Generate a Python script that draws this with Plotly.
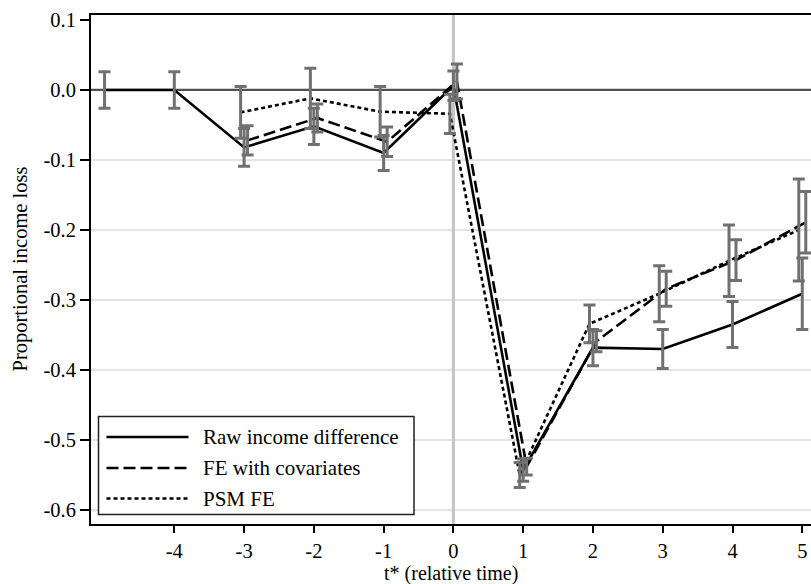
import plotly.graph_objects as go

# ---------------- data ----------------
times_raw = [-5, -4, -3, -2, -1, 0, 1, 2, 3, 4, 5]
raw_vals = [0.000, 0.000, -0.082, -0.052, -0.090, 0.006, -0.543, -0.368, -0.370, -0.335, -0.291]
raw_err = [0.026, 0.026, 0.027, 0.026, 0.025, 0.021, 0.016, 0.026, 0.028, 0.033, 0.051]

times_fe = [-3, -2, -1, 0, 1, 2, 3, 4, 5]
fe_vals = [-0.072, -0.040, -0.074, 0.012, -0.538, -0.359, -0.284, -0.243, -0.189]
fe_err = [0.021, 0.020, 0.021, 0.025, 0.012, 0.015, 0.025, 0.029, 0.044]

times_psm = [-3, -2, -1, 0, 1, 2, 3, 4, 5]
psm_vals = [-0.032, -0.012, -0.031, -0.034, -0.550, -0.334, -0.291, -0.244, -0.200]
psm_err = [0.037, 0.043, 0.036, 0.028, 0.018, 0.027, 0.040, 0.051, 0.073]

series_names = ["Raw income difference", "FE with covariates", "PSM FE"]

x_tickvals = [-4, -3, -2, -1, 0, 1, 2, 3, 4, 5]
x_ticktext = ["-4", "-3", "-2", "-1", "0", "1", "2", "3", "4", "5"]
y_tickvals = [0.1, 0.0, -0.1, -0.2, -0.3, -0.4, -0.5, -0.6]
y_ticktext = ["0.1", "0.0", "-0.1", "-0.2", "-0.3", "-0.4", "-0.5", "-0.6"]
grid_vals = [-0.1, -0.2, -0.3, -0.4, -0.5, -0.6]

# ---------------- styling ----------------
FONT = "Liberation Serif, Times New Roman, serif"
FS = 20.5
W, H = 811, 584
L, R, T, B = 91, 0, 15, 60
PW, PH = W - L - R, H - T - B

offsets = [0.0, 0.05, -0.05]
dashes = ["solid", "12px,5px", "4px,3px"]
ERR_COL = "#707070"

def px_x(p):
    return (p - L) / PW

def px_y(p):
    return (H - B - p) / PH

series = [
    (times_raw, raw_vals, raw_err),
    (times_fe, fe_vals, fe_err),
    (times_psm, psm_vals, psm_err),
]

fig = go.Figure()

# lines
for (t, v, e), off, d, nm in zip(series, offsets, dashes, series_names):
    fig.add_trace(go.Scatter(
        x=[ti + off for ti in t], y=v, mode="lines", name=nm,
        line=dict(color="black", width=2.6, dash=d), showlegend=False,
    ))

# error bars on top
for (t, v, e), off in zip(series, offsets):
    fig.add_trace(go.Scatter(
        x=[ti + off for ti in t], y=v, mode="markers",
        marker=dict(size=1, color="rgba(0,0,0,0)"),
        error_y=dict(type="data", array=e, visible=True, color=ERR_COL,
                     thickness=3, width=6),
        showlegend=False, hoverinfo="skip",
    ))

shapes = []
for g in grid_vals:
    shapes.append(dict(type="line", xref="paper", x0=0, x1=1, yref="y", y0=g, y1=g,
                       line=dict(color="#e3e3e3", width=2), layer="below"))
# vertical reference at t=0
shapes.append(dict(type="line", xref="x", x0=0, x1=0, yref="paper", y0=0, y1=1,
                   line=dict(color="#c4c4c4", width=3), layer="below"))
# horizontal zero line
shapes.append(dict(type="line", xref="paper", x0=0, x1=1, yref="y", y0=0, y1=0,
                   line=dict(color="#505050", width=2.2), layer="below"))

# manual legend
leg_left, leg_right, leg_top, leg_bottom = 98.5, 414, 416.5, 514.5
shapes.append(dict(type="rect", xref="paper", yref="paper",
                   x0=px_x(leg_left), x1=px_x(leg_right),
                   y0=px_y(leg_bottom), y1=px_y(leg_top),
                   line=dict(color="#222222", width=1.5), fillcolor="white", layer="above"))
row_y = [437, 468, 498.5]
annotations = []
for ry, d, nm in zip(row_y, dashes, series_names):
    shapes.append(dict(type="line", xref="paper", yref="paper",
                       x0=px_x(106.5), x1=px_x(188.5), y0=px_y(ry), y1=px_y(ry),
                       line=dict(color="black", width=2.6, dash=d), layer="above"))
    annotations.append(dict(xref="paper", yref="paper", x=px_x(201), y=px_y(ry),
                            text=nm, showarrow=False, xanchor="left", yanchor="middle",
                            font=dict(family=FONT, size=21, color="black")))

# axis titles
annotations.append(dict(xref="paper", yref="paper", x=px_x(20), y=0.5,
                        text="Proportional income loss", textangle=-90, showarrow=False,
                        xanchor="center", yanchor="middle",
                        font=dict(family=FONT, size=FS, color="black")))
annotations.append(dict(xref="paper", yref="paper", x=0.5, y=px_y(573),
                        text="t* (relative time)", showarrow=False,
                        xanchor="center", yanchor="middle",
                        font=dict(family=FONT, size=20, color="black")))

fig.update_layout(
    width=W, height=H,
    margin=dict(l=L, r=R, t=T, b=B, autoexpand=False),
    paper_bgcolor="white", plot_bgcolor="white",
    showlegend=False,
    shapes=shapes, annotations=annotations,
    font=dict(family=FONT, size=FS, color="black"),
)
fig.update_xaxes(
    range=[-5.194, 5.125], tickvals=x_tickvals, ticktext=x_ticktext,
    showgrid=False, zeroline=False, showline=True, linecolor="black", linewidth=2,
    mirror=True, ticks="outside", ticklen=7, tickwidth=1.5, tickcolor="black",
    tickfont=dict(family=FONT, size=FS, color="black"),
)
fig.update_yaxes(
    range=[-0.62, 0.1071], tickvals=y_tickvals, ticktext=y_ticktext,
    showgrid=False, zeroline=False, showline=True, linecolor="black", linewidth=2,
    mirror=False, ticks="outside", ticklen=9, tickwidth=1.5, tickcolor="black",
    tickfont=dict(family=FONT, size=FS, color="black"),
)

fig.write_html("out.html")
